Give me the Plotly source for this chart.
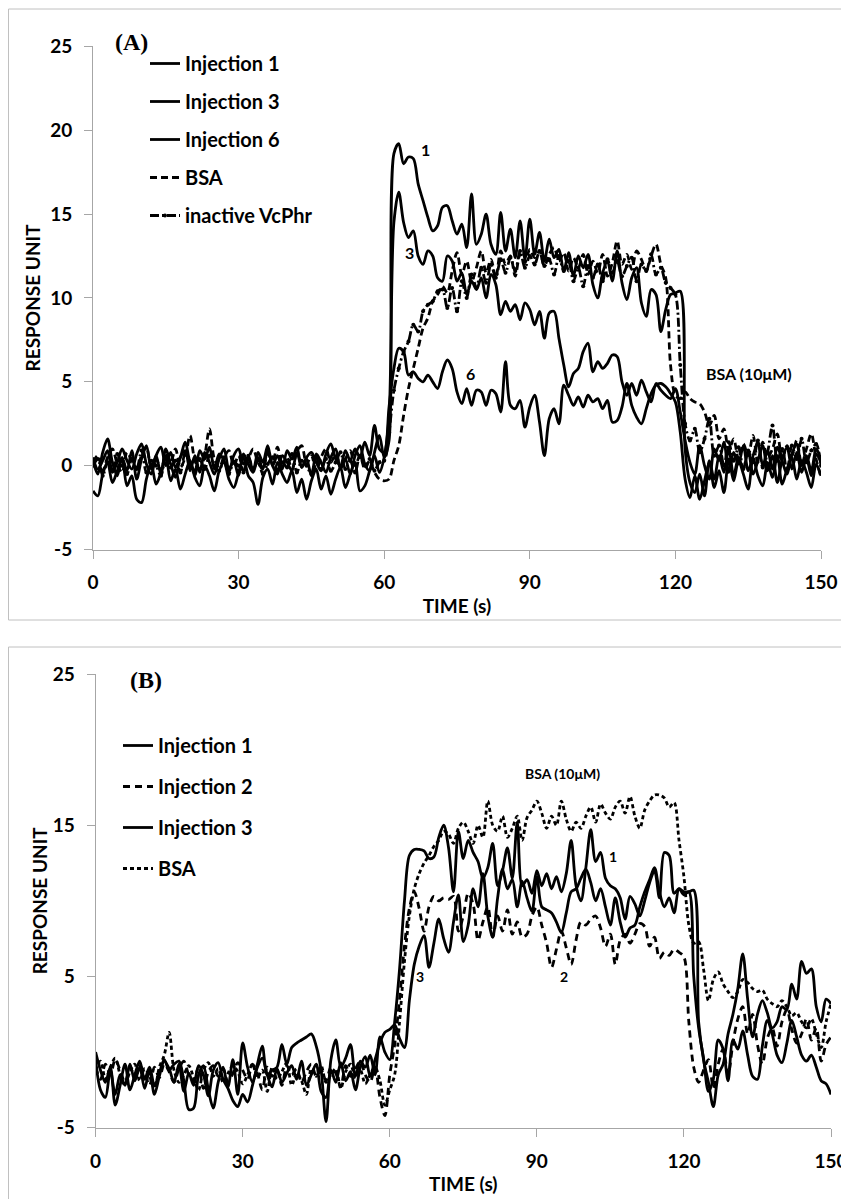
import plotly.graph_objects as go

# ---------------- data ----------------
time_s = list(range(151))

# Panel A (response units), t = 0..150 s
a_inj1 = [0.3,-0.5,0.8,1.6,0.2,-0.6,0.5,-0.3,0.9,-0.8, 0.4,1.2,-0.2,0.6,-0.5,1.0,0.1,-0.7,0.5,0.9,
          -0.3,0.6,-0.4,0.8,0.2,-0.5,0.4,1.0,-0.2,0.3, -0.6,0.7,0.1,-0.4,0.5,-0.2,0.9,0.0,-0.5,0.6,
          0.2,-0.3,0.8,-0.1,0.4,-0.6,0.7,0.2,-0.4,0.5, 1.0,-0.2,0.4,-0.5,0.6,1.2,0.1,-0.3,0.8,1.8, 0.5,
          1.5,18.6,19.2,18.0,18.4,18.3,16.8,15.8,14.8,14.0,
          14.3,15.4,15.5,14.6,13.8,14.4,13.0,16.2,13.2,13.8,
          15.0,13.2,12.6,15.1,12.8,14.1,12.4,14.6,12.3,14.7,
          12.6,13.9,12.2,13.5,12.4,12.9,11.6,12.7,11.3,12.5,
          11.8,12.6,10.8,10.0,11.5,12.2,11.0,12.8,10.9,9.9,
          11.2,11.8,9.7,8.9,10.5,10.2,8.0,9.3,10.2,10.3,
          10.4,1.0,-1.0,-1.6,-0.5,-1.8,0.3,-0.8,0.6,-0.4,
          1.0,-0.6,0.5,-0.2,0.9,-0.5,0.3,1.2,-0.3,0.6,
          -1.0,0.4,1.1,-0.2,0.8,-0.4,0.5,-0.6,0.7,0.2]
a_inj3 = [-1.5,-1.8,-0.5,0.2,-1.0,-0.3,0.4,-1.2,-0.6,-2.0, -2.2,-0.8,0.1,-1.1,-0.4,0.6,-0.9,-0.2,-1.4,-0.5,
          0.3,-0.7,-1.2,0.0,-0.6,-1.5,-0.3,0.2,-0.8,-1.3, -0.4,0.5,-0.6,-1.0,-2.3,-0.7,-0.2,-1.1,0.2,-0.5,
          -1.0,-0.3,-1.6,-0.8,-2.0,-0.9,-0.2,-1.4,-0.6,-1.7, -0.8,-0.1,-1.3,-0.5,0.2,-1.5,-1.2,-0.3,0.6,-0.4, 0.5,
          3.0,14.5,16.3,14.5,13.6,14.0,12.5,12.0,12.8,12.5,
          11.2,11.0,12.5,12.2,11.0,11.5,10.2,11.0,10.5,11.2,
          10.0,11.4,10.8,9.0,9.8,9.2,9.6,8.7,9.7,9.3,
          8.4,9.2,7.6,9.1,9.2,7.6,6.0,4.7,5.5,5.8,
          6.8,7.3,5.6,6.2,5.8,6.1,6.6,6.5,5.0,4.2,
          4.9,4.2,5.1,4.4,3.8,4.9,4.5,4.2,4.0,4.6,
          3.2,1.5,0.2,-0.5,1.2,0.0,-0.8,1.0,0.3,1.4,
          -0.4,0.8,0.1,1.2,-0.3,0.6,1.4,0.0,0.9,-0.2,
          1.1,0.3,-0.5,0.7,1.3,0.0,0.6,-0.3,1.0,0.4]
a_inj6 = [0.5,-0.2,0.3,0.9,-0.4,0.2,1.0,0.3,-0.2,0.7, 1.3,0.1,-0.5,0.6,1.1,0.0,0.8,-0.1,0.5,1.4,
          0.2,-0.3,0.9,0.4,1.1,-0.2,0.7,0.3,-0.4,0.6, 1.0,0.1,0.5,-0.3,0.8,0.2,1.2,0.0,0.6,-0.2,
          0.9,0.4,1.1,-0.1,0.5,0.8,0.2,-0.3,0.7,1.3, 0.4,0.0,0.9,0.3,1.0,0.5,1.4,0.6,2.4,1.0, 0.8,
          3.5,5.8,7.0,6.8,5.4,5.6,5.2,5.0,5.4,5.0,
          4.6,5.6,6.3,5.8,4.4,3.7,4.6,3.6,4.5,4.4,
          3.6,4.5,4.3,3.2,6.2,3.6,3.4,3.9,2.3,3.5,
          4.2,2.6,0.6,2.8,3.4,2.5,4.8,4.2,3.6,4.1,
          3.5,4.2,3.8,4.0,3.4,3.9,2.6,2.7,3.5,4.9,
          3.6,2.9,2.5,3.4,4.3,4.8,4.9,4.7,4.3,3.8,
          2.0,-0.8,-1.9,-0.6,-2.0,-0.9,0.2,-1.3,-0.3,-1.6,
          0.4,-0.9,0.3,-0.5,-1.4,0.5,-0.6,-1.2,0.2,-0.7,
          0.6,-1.1,-0.2,0.5,-0.8,0.3,-0.4,-1.3,0.1,-0.6]
a_bsa = [0.2,0.6,-0.3,0.5,1.0,0.1,-0.4,0.8,0.3,-0.2, 0.6,1.1,0.0,0.4,-0.3,0.7,0.2,1.0,-0.1,0.5,
         1.8,0.3,-0.2,0.6,2.2,0.4,-0.1,0.5,0.9,0.0, 0.6,-0.3,0.4,1.0,0.2,-0.2,0.7,0.3,1.1,0.0,
         0.5,-0.2,0.8,1.2,0.1,0.6,-0.3,0.5,1.0,0.2, 0.7,-0.1,0.4,0.9,0.0,0.6,-0.2,0.3,-0.4,-0.8, -0.9,
         -0.8,0.3,1.2,3.0,4.6,5.8,7.0,8.2,8.8,9.8,
         10.2,10.7,10.3,11.6,12.7,11.4,12.2,11.0,11.8,12.8,
         11.5,12.3,11.2,12.8,12.0,12.5,11.3,12.6,12.1,12.9,
         12.4,12.8,11.9,12.6,13.0,12.2,12.7,11.6,12.4,11.8,
         12.6,11.4,12.2,11.5,12.6,11.3,12.1,13.4,12.0,12.6,
         11.7,12.8,12.3,11.6,12.5,13.2,12.0,11.2,6.0,4.2,
         4.0,4.4,4.0,3.8,3.7,3.2,2.4,3.0,1.6,2.2,
         0.9,1.6,0.4,1.3,0.6,1.8,0.2,1.4,0.5,1.0,
         1.9,0.3,1.2,0.6,1.5,0.1,1.0,1.9,0.4,-0.7]
a_inactive = [0.0,0.4,-0.6,0.2,-0.3,0.7,0.0,-0.5,0.4,-0.2, 0.9,-0.4,0.3,0.0,-0.6,0.5,-0.1,0.3,-0.4,0.8,
              0.1,-0.5,0.4,-0.2,0.6,0.0,-0.3,0.5,-0.5,0.2, 0.0,-0.4,0.6,-0.2,0.3,-0.5,0.1,0.5,-0.3,0.2,
              -0.1,0.7,-0.4,0.3,0.0,-0.5,0.5,-0.2,0.4,-0.3, 0.2,0.8,-0.2,0.3,-0.4,0.6,0.0,0.4,-0.3,0.2, 0.3,
              2.0,4.5,5.8,6.8,7.4,8.4,8.0,9.2,9.6,9.8,
              10.4,10.5,9.4,10.6,9.2,11.0,10.0,11.4,10.6,11.8,
              10.9,12.0,11.2,12.3,11.5,12.4,11.6,12.8,11.8,12.5,
              12.0,12.8,11.9,12.3,11.4,12.5,11.6,12.2,11.0,11.8,
              10.7,11.9,11.2,12.0,11.0,12.3,11.5,12.2,11.3,11.9,
              12.4,11.0,12.0,11.6,12.6,11.4,11.8,10.9,10.6,10.2,
              6.0,2.5,1.5,2.2,0.8,1.6,2.8,0.6,1.2,0.0,
              1.4,0.3,1.1,-0.2,0.9,0.2,1.5,-0.1,0.8,2.4,
              0.3,1.0,-0.3,1.2,0.4,1.6,0.2,0.9,1.3,0.0]

# Panel B (response units), t = 0..150 s
b_inj1 = [0.0,-1.2,-2.0,-1.0,-3.5,-2.2,-0.8,-2.5,-1.5,-0.6, -1.8,-1.0,-2.2,-1.4,-0.5,-1.2,-0.8,-0.6,-1.9,-3.8,
          -3.7,-1.5,-0.9,-2.5,-3.7,-2.0,-1.0,-2.3,-0.5,-2.8, 0.6,-1.0,-2.0,-0.8,0.4,-1.5,-1.2,-1.0,0.5,-0.8,
          0.3,0.6,0.8,1.0,1.2,0.4,-1.2,-4.6,-0.5,0.8, -1.0,-0.4,0.5,-1.6,-0.6,-1.0,-0.2,-1.5,1.0,0.0, -0.5,
          2.0,5.5,10.0,13.0,13.4,13.4,13.3,12.8,12.9,14.2,
          15.0,13.5,10.6,14.6,12.8,14.0,13.2,12.6,11.5,12.2,
          13.8,11.0,12.0,13.5,11.5,15.2,11.0,11.4,10.5,12.0,
          11.0,11.8,10.8,11.6,10.6,11.8,14.0,11.0,10.0,12.2,
          14.7,12.6,13.2,11.5,11.0,10.8,10.2,8.8,10.3,9.8,
          9.0,10.0,11.2,12.0,10.2,13.2,13.0,10.5,10.8,10.6,
          10.6,10.7,2.0,-0.5,-2.0,-3.6,-1.5,-0.8,1.2,2.5,
          4.2,6.5,3.5,1.0,2.5,3.4,2.6,1.6,2.0,3.0,
          2.8,4.5,3.5,6.0,5.2,5.5,3.0,2.0,3.5,3.2]
b_inj2 = [-1.0,-1.8,-0.8,-1.5,-0.5,-1.2,-2.0,-1.0,-1.6,-0.9, -1.4,-2.2,-1.0,-1.7,-0.8,-1.3,-2.0,-1.1,-0.6,-1.5,
          -1.9,-1.0,-2.4,-1.3,-0.9,-1.6,-1.1,-2.0,-1.4,-0.7, -1.2,-1.8,-0.8,-1.4,-2.5,-1.0,-1.6,-1.2,-2.2,-0.9,
          -1.5,-1.1,-2.0,-1.3,-0.8,-1.6,-1.2,-1.9,-1.0,-1.4, -2.3,-0.9,-1.6,-1.1,-0.6,-1.5,-2.0,-1.0,-3.0,-4.2, -1.5,
          0.5,3.5,7.0,9.5,10.6,9.5,8.0,9.6,10.3,10.0,
          10.2,10.1,10.3,8.0,9.0,10.5,9.8,7.4,8.6,9.6,
          7.6,9.0,8.0,9.4,7.8,8.6,7.6,7.8,9.0,9.6,
          8.4,7.2,5.6,6.8,8.0,6.9,5.8,7.4,8.6,8.4,
          8.8,9.0,8.2,7.0,7.8,5.8,7.4,7.8,7.2,7.8,
          8.5,8.3,7.0,7.6,6.2,6.6,6.4,6.8,6.6,6.3,
          2.0,-1.0,-2.0,-1.2,-0.5,-2.4,-0.8,0.2,-1.5,0.6,
          2.2,3.0,1.2,2.5,0.5,-0.8,0.9,1.6,0.4,2.0,
          2.8,1.5,0.6,1.2,2.2,0.8,1.6,-0.6,0.5,1.0]
b_inj3 = [-0.5,-2.5,-3.0,-1.2,-2.8,-1.5,-2.2,-0.8,-1.9,-1.0, -2.4,-1.2,-2.8,-1.6,-0.6,-1.1,-2.0,-0.8,-2.6,-1.4,
          -2.2,-0.9,-1.5,-2.9,-1.2,-0.7,-1.8,-2.4,-3.2,-3.6, -2.8,-3.3,-2.2,-1.0,-0.4,-1.5,-2.3,-1.1,-2.0,-1.4,
          -0.9,-1.8,-0.6,-2.2,-1.5,-0.8,-2.6,-3.0,-1.2,-2.0, -0.7,-1.9,-1.3,-2.5,-1.0,-0.3,-1.6,-0.5,0.6,1.3, 1.5,
          1.8,0.9,0.3,3.4,5.8,7.0,7.7,5.6,7.2,8.8,
          7.5,6.6,8.6,10.4,7.3,8.4,10.8,9.6,11.8,9.0,
          7.6,10.2,12.1,10.8,11.4,9.6,11.3,10.2,9.3,11.6,
          9.6,9.4,9.2,8.6,7.9,9.2,10.6,10.8,11.5,12.1,
          11.2,10.0,10.8,9.6,8.4,10.2,8.6,7.6,8.2,8.4,
          9.6,10.6,11.4,12.2,10.6,9.6,10.2,9.2,10.8,10.4,
          10.6,5.0,1.6,-0.4,-2.6,-1.8,0.8,0.2,-1.9,0.8,
          0.2,1.4,-0.2,-1.6,-1.8,0.4,2.1,1.2,-0.2,-0.7,
          0.6,2.1,1.0,-0.2,-0.6,-0.2,-1.0,-1.9,-2.1,-2.8]
b_bsa = [-1.2,-0.6,-1.8,-1.0,-0.4,-1.5,-2.2,-1.3,-0.8,-1.9, -1.1,-1.6,-2.4,-1.0,-0.2,1.3,-1.2,-2.0,-1.5,-0.9,
         -1.7,-2.5,-1.2,-0.7,-1.6,-1.1,-2.0,-1.4,-0.9,-1.3, -2.1,-1.5,-0.8,-1.7,-1.2,-2.6,-1.0,-1.8,-1.3,-0.7,
         -2.2,-1.4,-1.9,-2.8,-1.1,-1.6,-0.9,-2.0,-1.5,-1.1, -2.4,-1.3,-0.8,-1.7,-1.2,-2.1,-1.5,-1.0,-1.9,-3.5, -2.5,
         -1.5,2.0,6.0,9.0,10.8,11.8,12.5,13.0,13.6,14.0,
         14.6,14.4,13.8,14.8,15.2,14.6,13.8,15.0,14.2,16.6,
         15.0,14.6,15.6,14.2,14.8,15.6,14.0,15.5,16.0,16.6,
         15.8,14.8,15.6,15.0,16.6,15.4,14.6,15.2,14.8,15.6,
         16.2,15.2,16.4,15.8,15.4,16.2,16.6,15.8,16.9,15.6,
         14.8,16.0,16.6,17.0,17.0,16.8,16.2,16.5,14.0,11.6,
         8.4,7.2,7.3,5.5,3.4,4.8,5.3,4.5,4.0,3.6,
         4.0,4.8,4.6,4.2,4.0,4.1,3.5,3.2,3.0,3.4,
         3.0,2.4,2.6,2.0,1.6,2.2,1.2,0.3,2.0,3.2]

for s in (a_inj1, a_inj3, a_inj6, a_bsa, a_inactive, b_inj1, b_inj2, b_inj3, b_bsa):
    assert len(s) == len(time_s), len(s)

x_ticks = [0, 30, 60, 90, 120, 150]
a_y_ticks = [-5, 0, 5, 10, 15, 20, 25]
b_y_ticks = [-5, 5, 15, 25]

# ---------------- figure ----------------
# The page body has an 8px margin, so the figure starts at (8, 8) in the window.
OFF = 8
W, H = 849 - OFF, 1199 - OFF
FONT = "Lato"
LW = 2.8

def px(v):
    return (v - OFF) / W

def py(v):
    return 1 - (v - OFF) / H

fig = go.Figure()

def add(x, y, name, dash, xa, ya, leg, group, markers=False):
    fig.add_trace(go.Scatter(
        x=x, y=y, name=name, xaxis=xa, yaxis=ya, legend=leg, legendgroup=group,
        mode="lines+markers" if markers else "lines",
        line=dict(color="black", width=LW, dash=dash, shape="spline", smoothing=0.9),
        marker=dict(size=4, color="black"),
        showlegend=True,
    ))

add(time_s, a_inj1, "Injection 1", "solid", "x", "y", "legend", "a1")
add(time_s, a_inj3, "Injection 3", "solid", "x", "y", "legend", "a3")
add(time_s, a_inj6, "Injection 6", "solid", "x", "y", "legend", "a6")
add(time_s, a_bsa, "BSA", "7px,4px", "x", "y", "legend", "ab")
add(time_s, a_inactive, "inactive VcPhr", "9px,3px,2px,3px", "x", "y", "legend", "ai", markers=True)

add(time_s, b_inj1, "Injection 1", "solid", "x2", "y2", "legend2", "b1")
add(time_s, b_inj2, "Injection 2", "7px,5px", "x2", "y2", "legend2", "b2")
add(time_s, b_inj3, "Injection 3", "solid", "x2", "y2", "legend2", "b3")
add(time_s, b_bsa, "BSA", "4px,3px", "x2", "y2", "legend2", "bb")

axis_common = dict(
    showline=True, linecolor="#a6a6a6", linewidth=1,
    ticks="outside", ticklen=8, tickcolor="#a6a6a6", tickwidth=1,
    showgrid=False, zeroline=False, automargin=False,
    tickfont=dict(family=FONT, size=19, color="black", weight="bold"),
    ticklabelstandoff=8, ticklabeloverflow="allow",
)
title_font = dict(family=FONT, size=19, color="black", weight="bold")

legend_font = dict(family=FONT, size=20, color="black", weight="bold")

fig.update_layout(
    width=W, height=H,
    margin=dict(l=0, r=0, t=0, b=0, autoexpand=False),
    paper_bgcolor="white", plot_bgcolor="white",
    xaxis=dict(domain=[px(93), px(821)], range=[0, 150], tickvals=x_ticks, anchor="y",
               title=dict(text="TIME (s)", font=title_font, standoff=7), **axis_common),
    yaxis=dict(domain=[py(549.6), py(46.3)], range=[-5, 25], tickvals=a_y_ticks,
               ticktext=[str(v) for v in a_y_ticks], anchor="x",
               title=dict(text="RESPONSE UNIT", font=title_font, standoff=4), **axis_common),
    xaxis2=dict(domain=[px(95.6), px(831)], range=[0, 150], tickvals=x_ticks, anchor="y2",
                title=dict(text="TIME (s)", font=title_font, standoff=7), **axis_common),
    yaxis2=dict(domain=[py(1127.7), py(674)], range=[-5, 25], tickvals=b_y_ticks,
                ticktext=[str(v) for v in b_y_ticks], anchor="x2",
                title=dict(text="RESPONSE UNIT", font=title_font, standoff=0), **axis_common),
    legend=dict(x=px(145), y=py(44), xanchor="left", yanchor="top", font=legend_font,
                bgcolor="rgba(0,0,0,0)", tracegroupgap=9, itemwidth=30),
    legend2=dict(x=px(118), y=py(726), xanchor="left", yanchor="top", font=legend_font,
                 bgcolor="rgba(0,0,0,0)", tracegroupgap=12, itemwidth=30),
    showlegend=True,
)

frame = dict(color="#c0c0c0", width=1)
fig.add_shape(type="rect", xref="paper", yref="paper", x0=px(8.5), x1=px(852),
              y0=py(620), y1=py(9), line=frame, layer="below")
fig.add_shape(type="rect", xref="paper", yref="paper", x0=px(8.5), x1=px(852),
              y0=py(1202), y1=py(647), line=frame, layer="below")

serif = dict(family="Liberation Serif", size=24, color="black", weight="bold")
lab = dict(family=FONT, size=16, color="black", weight="bold")
labs = dict(family=FONT, size=14, color="black", weight="bold")

fig.add_annotation(text="(A)", xref="paper", yref="paper", x=px(131), y=py(42),
                   xanchor="center", yanchor="middle", showarrow=False, font=serif)
fig.add_annotation(text="(B)", xref="paper", yref="paper", x=px(146), y=py(680),
                   xanchor="center", yanchor="middle", showarrow=False, font=serif)

fig.add_annotation(text="1", x=68.6, y=18.85, xref="x", yref="y", showarrow=False, font=lab)
fig.add_annotation(text="3", x=65.3, y=12.7, xref="x", yref="y", showarrow=False, font=lab)
fig.add_annotation(text="6", x=77.7, y=5.5, xref="x", yref="y", showarrow=False, font=lab)
fig.add_annotation(text="BSA (10\u03bcM)", x=135.2, y=5.5, xref="x", yref="y", showarrow=False, font=lab)

fig.add_annotation(text="BSA (10\u03bcM)", x=95.3, y=18.4, xref="x2", yref="y2", showarrow=False, font=labs)
fig.add_annotation(text="1", x=105.5, y=12.9, xref="x2", yref="y2", showarrow=False, font=labs)
fig.add_annotation(text="2", x=95.6, y=5.0, xref="x2", yref="y2", showarrow=False, font=labs)
fig.add_annotation(text="3", x=66.2, y=5.0, xref="x2", yref="y2", showarrow=False, font=labs)

fig.write_html("out.html")
